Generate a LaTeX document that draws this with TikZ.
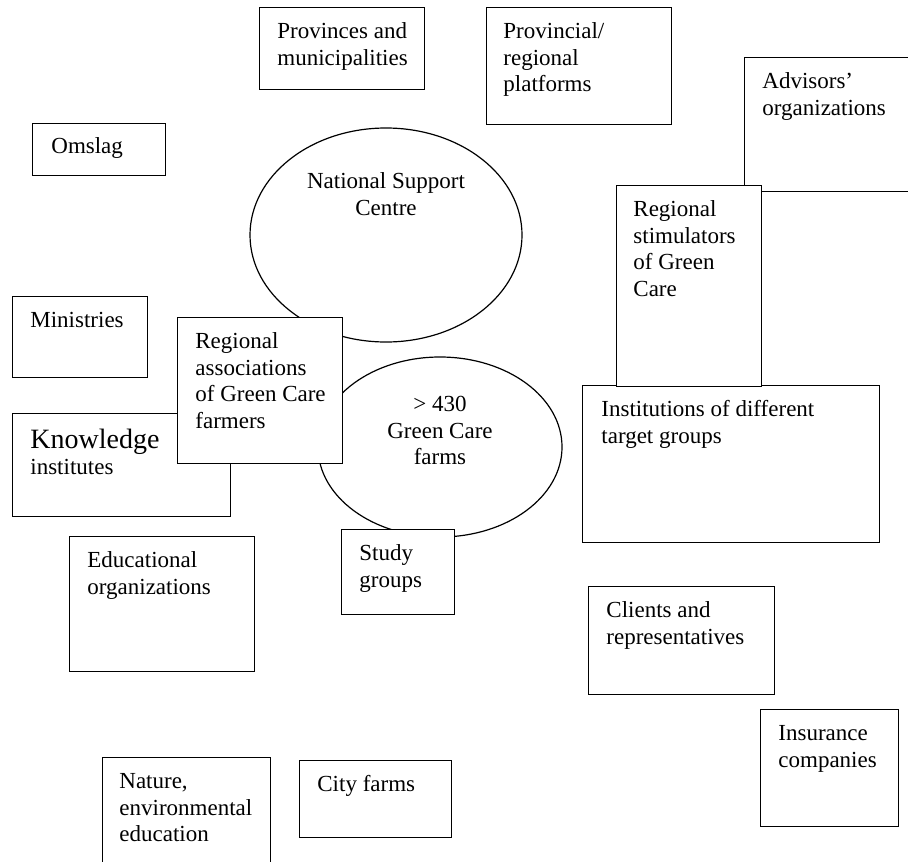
\documentclass[tikz,border=0pt]{standalone}
\usepackage{fontspec}
\setmainfont{Liberation Serif}
\usepackage{tikz}
\usetikzlibrary{shapes.geometric, positioning}
\tikzset{gcbox/.style={rectangle, draw=black, fill=white, line width=0.6pt, inner sep=0pt, anchor=north west},gcellipse/.style={ellipse, draw=black, fill=white, line width=0.6pt, inner sep=0pt}}
\tikzset{gctext/.style={anchor=north west, inner sep=0pt, align=left, font=\fontsize{11.5}{13.35}\selectfont},gcmid/.style={anchor=north, inner sep=0pt, align=center, font=\fontsize{11.5}{13.35}\selectfont}}

\begin{document}
\begin{tikzpicture}[
        x=0.5pt, y=-0.5pt,
        gctext/.style={anchor=north west, inner sep=0pt, align=left, font=\fontsize{11.5}{13.35}\selectfont},
    ]
        \useasboundingbox (0, 0) rectangle (908, 861);
        % Outer boxes
        \node[gcbox, minimum width=82.5pt, minimum height=41pt] (prov) at (259, 7) {};
        \node[gcbox, minimum width=92.5pt, minimum height=58.5pt] (platf) at (486, 7) {};
        \node[gcbox, minimum width=66.5pt, minimum height=26pt] (omslag) at (32, 123) {};
        \node[gcbox, minimum width=67.5pt, minimum height=40.5pt] (minist) at (12, 296) {};
        \node[gcbox, minimum width=92.5pt, minimum height=67.5pt] (educ) at (69, 536) {};
        \node[gcbox, minimum width=84pt, minimum height=61.5pt] (nature) at (102, 757) {};
        \node[gcbox, minimum width=76pt, minimum height=38.5pt] (city) at (299, 760) {};
        \node[gcbox, minimum width=93pt, minimum height=54pt] (clients) at (588, 586) {};
        \node[gcbox, minimum width=69pt, minimum height=58.5pt] (insur) at (760, 709) {};
        \node[gcbox, minimum width=148.5pt, minimum height=78.5pt] (instit) at (582, 385) {};
        \node[gcbox, minimum width=93pt, minimum height=67pt] (advis) at (744, 57) {};
        \node[gcbox, minimum width=72.5pt, minimum height=100.5pt] (stim) at (616, 185) {};
        % Ellipses
        \node[gcellipse, minimum width=136pt, minimum height=107pt] (nsc) at (386, 235) {};
        \node[gcellipse, minimum width=122pt, minimum height=90pt] (farms) at (440, 447) {};
        % Boxes lying over the ellipses
        \node[gcbox, minimum width=109pt, minimum height=51.5pt] (knowl) at (12, 413) {};
        \node[gcbox, minimum width=82.5pt, minimum height=73pt] (regass) at (177, 317) {};
        \node[gcbox, minimum width=56.5pt, minimum height=42.5pt] (study) at (341, 529) {};
        % Labels (first baseline 15.5pt below the top edge)
        \node[gctext] (prov-t) at ([xshift=9pt, yshift=-6.15pt]prov.north west) {\strut Provinces and\\municipalities};
        \node[gctext] (platf-t) at ([xshift=8.5pt, yshift=-6.15pt]platf.north west) {\strut Provincial/\\regional\\platforms};
        \node[gctext] (omslag-t) at ([xshift=9.5pt, yshift=-5.65pt]omslag.north west) {\strut Omslag};
        \node[gctext] (minist-t) at ([xshift=9pt, yshift=-6.15pt]minist.north west) {\strut Ministries};
        \node[gctext] (educ-t) at ([xshift=9pt, yshift=-6.15pt]educ.north west) {\strut Educational\\organizations};
        \node[gctext] (nature-t) at ([xshift=8.5pt, yshift=-6.15pt]nature.north west) {\strut Nature,\\environmental\\education};
        \node[gctext] (city-t) at ([xshift=9pt, yshift=-6.15pt]city.north west) {\strut City farms};
        \node[gctext] (clients-t) at ([xshift=9pt, yshift=-6.15pt]clients.north west) {\strut Clients and\\representatives};
        \node[gctext] (insur-t) at ([xshift=9pt, yshift=-6.15pt]insur.north west) {\strut Insurance\\companies};
        \node[gctext] (instit-t) at ([xshift=9.5pt, yshift=-6.15pt]instit.north west) {\strut Institutions of different\\target groups};
        \node[gctext] (advis-t) at ([xshift=9pt, yshift=-6.15pt]advis.north west) {\strut Advisors’\\organizations};
        \node[gctext] (stim-t) at ([xshift=8.5pt, yshift=-6.15pt]stim.north west) {\strut Regional\\stimulators\\of Green\\Care};
        \node[gctext] (knowl-t) at ([xshift=9pt, yshift=-6.3pt]knowl.north west) {{\fontsize{14}{16}\selectfont\strut Knowledge}\\[-0.5pt]institutes};
        \node[gctext] (regass-t) at ([xshift=9pt, yshift=-6.15pt]regass.north west) {\strut Regional\\associations\\of Green Care\\farmers};
        \node[gctext] (study-t) at ([xshift=9pt, yshift=-6.15pt]study.north west) {\strut Study\\groups};
        \node[gcmid] (nsc-t) at (386, 169.3) {\strut National Support\\Centre};
        \node[gcmid] (farms-t) at (440, 392.3) {\strut > 430\\Green Care\\farms};
    \end{tikzpicture}
\end{document}
